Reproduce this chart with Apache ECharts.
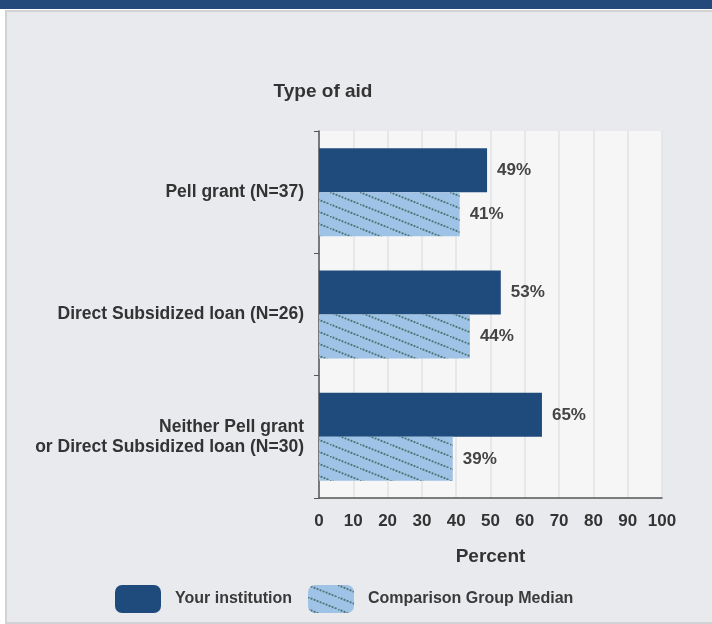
<!DOCTYPE html>
<html>
<head>
<meta charset="utf-8">
<script src="https://cdn.jsdelivr.net/npm/echarts@6/dist/echarts.min.js"></script>
<style>
  html, body { margin: 0; padding: 0; background: #fff; }
  #chart { width: 712px; height: 624px; }
</style>
</head>
<body>
<div id="chart"></div>
<script>
// data
const categories = ['Pell grant (N=37)', 'Direct Subsidized loan (N=26)', 'Neither Pell grant\nor Direct Subsidized loan (N=30)']
const yourInstitution = [49, 53, 65]
const comparisonMedian = [41, 44, 39]
const xTicks = [0, 100, 10] // min, max, interval

// dotted diagonal hatch for the comparison bars
function makeHatch() {
  const c = document.createElement('canvas')
  c.width = 30
  c.height = 12
  const ctx = c.getContext('2d')
  ctx.fillStyle = '#9fc3e6'
  ctx.fillRect(0, 0, 30, 12)
  ctx.fillStyle = '#4d7474'
  for (let x = 0; x < 30; x += 3) {
    const y = x * 12 / 30
    ctx.beginPath()
    ctx.arc(x + 0.5, y + 0.5, 1.1, 0, Math.PI * 2)
    ctx.fill()
  }
  return c
}

const font = '"Liberation Sans", Arial, sans-serif'
const chart = echarts.init(document.getElementById('chart'))

const option = {
  backgroundColor: '#fff',
  textStyle: { fontFamily: font },
  graphic: [
    { type: 'rect', shape: { x: 0, y: 0, width: 712, height: 9 }, style: { fill: '#244a7b' }, z: -10 },
    { type: 'rect', shape: { x: 6, y: 11, width: 720, height: 612 }, style: { fill: '#e9eaee', stroke: '#d2d2d4', lineWidth: 2 }, z: -10 }
  ],
  title: {
    text: 'Type of aid',
    left: 318,
    top: 77,
    textAlign: 'center',
    textStyle: { fontSize: 19, fontWeight: 'bold', color: '#333', fontFamily: font }
  },
  legend: {
    left: 115,
    top: 585,
    padding: 0,
    icon: 'roundRect',
    itemWidth: 46,
    itemHeight: 28,
    itemGap: 16,
    textStyle: { fontSize: 16, fontWeight: 'bold', color: '#3a3a3a', fontFamily: font, padding: [0, 0, 0, 9] },
    data: ['Your institution', 'Comparison Group Median']
  },
  grid: {
    left: 319,
    right: 50,
    top: 131,
    bottom: 126,
    show: true,
    backgroundColor: '#f6f6f7',
    borderWidth: 0
  },
  xAxis: {
    type: 'value',
    min: xTicks[0],
    max: xTicks[1],
    interval: xTicks[2],
    name: 'Percent',
    nameLocation: 'middle',
    nameGap: 49,
    nameTextStyle: { fontSize: 19, fontWeight: 'bold', color: '#333', fontFamily: font },
    axisLine: { show: true, lineStyle: { color: '#555', width: 1.5 } },
    axisTick: { show: false },
    axisLabel: { fontSize: 17, fontWeight: 'bold', color: '#333', margin: 15, fontFamily: font },
    splitLine: { show: true, lineStyle: { color: '#e2e2e4', width: 1.5 } }
  },
  yAxis: {
    type: 'category',
    inverse: true,
    data: categories,
    axisLine: { show: true, lineStyle: { color: '#555', width: 1.5 } },
    axisTick: { show: true, length: 5, lineStyle: { color: '#555' } },
    axisLabel: { fontSize: 17.5, fontWeight: 'bold', color: '#333', margin: 15, lineHeight: 20, fontFamily: font },
    splitLine: { show: false }
  },
  series: [
    {
      name: 'Your institution',
      type: 'bar',
      data: yourInstitution,
      barGap: 0,
      barCategoryGap: '28%',
      itemStyle: { color: '#1f4a7c' },
      label: { show: true, position: 'right', distance: 10, formatter: '{c}%', fontSize: 17, fontWeight: 'bold', color: '#444', fontFamily: font }
    },
    {
      name: 'Comparison Group Median',
      type: 'bar',
      data: comparisonMedian,
      barGap: 0,
      barCategoryGap: '28%',
      itemStyle: { color: { image: makeHatch(), repeat: 'repeat' } },
      label: { show: true, position: 'right', distance: 10, formatter: '{c}%', fontSize: 17, fontWeight: 'bold', color: '#444', fontFamily: font }
    }
  ]
}

chart.setOption(option)
</script>
</body>
</html>
